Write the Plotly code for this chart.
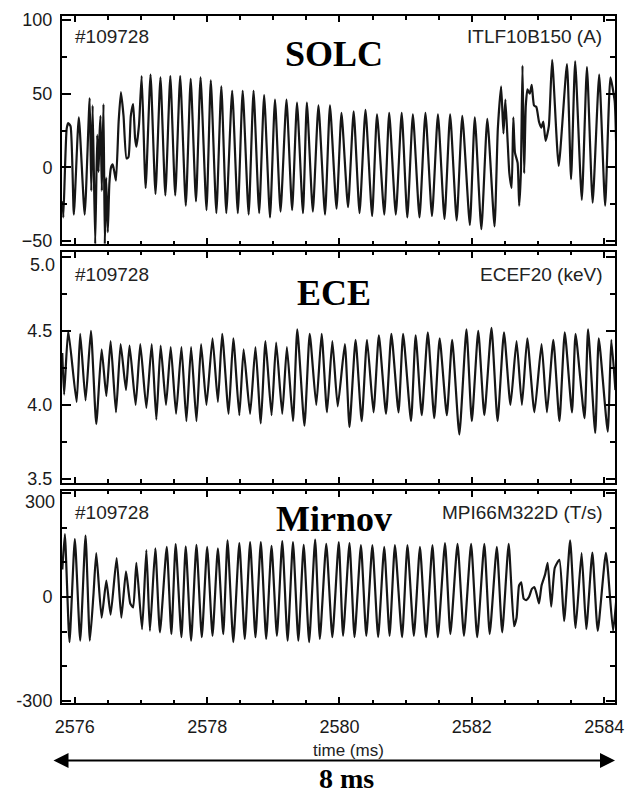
import plotly.graph_objects as go
from plotly.subplots import make_subplots

# ---------------- data (time in ms) ----------------
solc_t = [2575.816, 2575.826, 2575.876, 2575.900, 2575.935, 2575.985, 2576.060, 2576.149, 2576.224, 2576.249,
          2576.269, 2576.308, 2576.338, 2576.358, 2576.373, 2576.388, 2576.408, 2576.433, 2576.453, 2576.473,
          2576.498, 2576.522, 2576.547, 2576.572, 2576.597, 2576.622, 2576.662, 2576.697, 2576.736, 2576.781,
          2576.811, 2576.846, 2576.881, 2576.910, 2576.930, 2576.970, 2577.010, 2577.070, 2577.144, 2577.219,
          2577.294, 2577.368, 2577.443, 2577.517, 2577.592, 2577.677, 2577.751, 2577.831, 2577.900, 2577.990,
          2578.055, 2578.139, 2578.214, 2578.289, 2578.378, 2578.463, 2578.537, 2578.627, 2578.701, 2578.786,
          2578.861, 2578.950, 2579.025, 2579.109, 2579.199, 2579.284, 2579.358, 2579.448, 2579.507, 2579.597,
          2579.682, 2579.781, 2579.856, 2579.955, 2580.030, 2580.129, 2580.214, 2580.303, 2580.393, 2580.493,
          2580.567, 2580.677, 2580.751, 2580.851, 2580.940, 2581.025, 2581.109, 2581.209, 2581.299, 2581.398,
          2581.488, 2581.587, 2581.672, 2581.771, 2581.856, 2581.970, 2582.045, 2582.144, 2582.234, 2582.343,
          2582.393, 2582.443, 2582.478, 2582.507, 2582.542, 2582.567, 2582.602, 2582.627, 2582.652, 2582.692,
          2582.716, 2582.741, 2582.766, 2582.791, 2582.816, 2582.841, 2582.876, 2582.905, 2582.940, 2582.975,
          2583.015, 2583.050, 2583.080, 2583.115, 2583.164, 2583.214, 2583.313, 2583.438, 2583.500, 2583.562,
          2583.662, 2583.740, 2583.826, 2583.925, 2584.015, 2584.095, 2584.159, 2584.184]
solc_v = [-23, -34, 26, 30, 28, -32, 34, -32, 47, -16,
          42, -52, 22, -3, 22, 35, -16, 43, -52, -7,
          -44, -11, 0, 2, -3, -9, 31, 51, 35, 6,
          7, 35, 43, 20, 14, 29, 62, -14, 63, -18,
          61, -19, 62, -19, 62, -26, 60, -23, 61, -29,
          59, -31, 55, -31, 52, -31, 52, -32, 52, -31,
          49, -34, 46, -30, 46, -29, 44, -31, 44, -30,
          42, -32, 42, -28, 37, -27, 38, -31, 39, -33,
          36, -32, 37, -32, 37, -34, 36, -34, 37, -33,
          36, -35, 36, -36, 35, -39, 34, -42, 33, -40,
          26, 55, 23, 46, 17, -4, -14, 34, 10, 3,
          -26, -4, 69, -4, 42, 53, 50, 56, 42, 41,
          31, 27, 31, 18, 28, 73, 1, 70, -8, 72,
          -22, 68, -24, 63, -26, 61, 45, 10]

ece_t = [2575.810, 2575.838, 2575.900, 2576.027, 2576.081, 2576.162, 2576.243, 2576.324, 2576.405, 2576.476,
         2576.541, 2576.622, 2576.692, 2576.773, 2576.827, 2576.919, 2576.989, 2577.081, 2577.162, 2577.232,
         2577.297, 2577.378, 2577.449, 2577.530, 2577.611, 2577.686, 2577.757, 2577.838, 2577.908, 2577.989,
         2578.081, 2578.162, 2578.227, 2578.324, 2578.395, 2578.486, 2578.551, 2578.649, 2578.730, 2578.811,
         2578.881, 2578.973, 2579.043, 2579.135, 2579.205, 2579.297, 2579.362, 2579.470, 2579.550, 2579.649,
         2579.730, 2579.811, 2579.892, 2579.973, 2580.081, 2580.151, 2580.243, 2580.335, 2580.416, 2580.514,
         2580.595, 2580.703, 2580.784, 2580.892, 2580.962, 2581.081, 2581.151, 2581.243, 2581.335, 2581.432,
         2581.514, 2581.622, 2581.703, 2581.811, 2581.919, 2582.000, 2582.097, 2582.189, 2582.297, 2582.389,
         2582.486, 2582.584, 2582.676, 2582.757, 2582.838, 2582.946, 2583.054, 2583.135, 2583.232, 2583.324,
         2583.405, 2583.514, 2583.568, 2583.703, 2583.757, 2583.865, 2583.919, 2584.054, 2584.108, 2584.170]
ece_v = [4.35, 4.07, 4.50, 4.02, 4.48, 4.03, 4.50, 3.87, 4.375, 4.06,
         4.43, 3.95, 4.41, 4.10, 4.40, 4.00, 4.41, 3.98, 4.41, 3.90,
         4.40, 4.00, 4.39, 3.94, 4.39, 3.89, 4.39, 3.89, 4.41, 4.00,
         4.45, 4.02, 4.48, 3.94, 4.45, 3.93, 4.375, 3.94, 4.39, 3.875,
         4.43, 3.93, 4.42, 3.94, 4.39, 3.89, 4.51, 3.86, 4.48, 4.00,
         4.48, 3.95, 4.43, 3.99, 4.41, 3.85, 4.44, 3.89, 4.44, 3.95,
         4.47, 3.94, 4.48, 3.95, 4.48, 3.89, 4.47, 3.93, 4.49, 3.91,
         4.45, 3.93, 4.44, 3.80, 4.51, 3.89, 4.50, 3.93, 4.52, 3.89,
         4.49, 4.00, 4.43, 4.00, 4.45, 3.95, 4.41, 3.95, 4.44, 3.89,
         4.49, 3.95, 4.48, 3.91, 4.51, 3.81, 4.45, 3.82, 4.44, 4.10]

mir_t = [2575.811, 2575.849, 2575.919, 2576.000, 2576.081, 2576.162, 2576.227, 2576.281, 2576.324, 2576.405,
         2576.476, 2576.541, 2576.632, 2576.703, 2576.773, 2576.838, 2576.881, 2576.930, 2577.016, 2577.081,
         2577.135, 2577.216, 2577.286, 2577.389, 2577.459, 2577.524, 2577.611, 2577.676, 2577.757, 2577.838,
         2577.919, 2578.000, 2578.081, 2578.162, 2578.243, 2578.308, 2578.395, 2578.486, 2578.568, 2578.649,
         2578.730, 2578.811, 2578.892, 2578.973, 2579.054, 2579.135, 2579.216, 2579.297, 2579.378, 2579.459,
         2579.541, 2579.632, 2579.703, 2579.800, 2579.892, 2579.989, 2580.054, 2580.151, 2580.227, 2580.324,
         2580.405, 2580.497, 2580.584, 2580.676, 2580.757, 2580.838, 2580.946, 2581.027, 2581.124, 2581.216,
         2581.308, 2581.405, 2581.486, 2581.595, 2581.676, 2581.784, 2581.881, 2581.989, 2582.081, 2582.189,
         2582.270, 2582.378, 2582.459, 2582.557, 2582.638, 2582.676, 2582.714, 2582.746, 2582.784, 2582.822,
         2582.865, 2582.908, 2582.946, 2582.984, 2583.016, 2583.054, 2583.108, 2583.146, 2583.200, 2583.254,
         2583.324, 2583.395, 2583.486, 2583.568, 2583.659, 2583.730, 2583.822, 2583.903, 2584.027, 2584.135,
         2584.189]
mir_v = [79, 181, -130, 167, -126, 177, -126, 5, 126, -60,
         47, -51, 112, -60, 74, -19, -30, 98, -93, 135,
         -98, 140, -102, 144, -107, 152, -116, 146, -126, 150,
         -116, 144, -112, 140, -107, 163, -130, 155, -121, 158,
         -116, 158, -121, 147, -112, 161, -126, 158, -126, 150,
         -130, 165, -121, 153, -116, 158, -112, 155, -116, 149,
         -112, 149, -116, 144, -112, 149, -116, 149, -112, 144,
         -116, 149, -116, 155, -107, 153, -112, 153, -116, 153,
         -107, 144, -102, 153, -84, -60, 33, 42, -5, -9,
         0, 23, 28, 5, -19, 33, 65, 98, -28, 84,
         107, -70, 163, -90, 126, -93, 128, -98, 127, -98,
         5]

shot_label = "#109728"
panel_names = ["SOLC", "ECE", "Mirnov"]
signal_names = ["ITLF10B150 (A)", "ECEF20 (keV)", "MPI66M322D (T/s)"]
x_range = [2575.806, 2584.164]
y_ranges = [[-52.0, 102.7], [3.473, 5.033], [-305.7, 305.7]]
y2_ticks = [3.5, 4.0, 4.5, 5.0]
y3_ticks = [-300, 0, 300]

# ---------------- figure ----------------
W, H = 634, 798
ML, MR, MT, MB = 62, 12, 10, 95
PW, PH = W - ML - MR, H - MT - MB

def px_x(p):
    return (p - ML) / PW

def px_y(p):
    return (H - MB - p) / PH

fig = make_subplots(rows=3, cols=1, shared_xaxes=True, vertical_spacing=0.01)

line = dict(color="#161616", width=2.2, shape="spline", smoothing=0.5)
for i, (t, v) in enumerate([(solc_t, solc_v), (ece_t, ece_v), (mir_t, mir_v)]):
    fig.add_trace(go.Scatter(x=t, y=v, mode="lines", line=line, showlegend=False,
                             hoverinfo="skip"), row=i + 1, col=1)

sans = "Liberation Sans, Arial, Helvetica, sans-serif"
serif = "Liberation Serif, Times New Roman, serif"
tickfont = dict(family=sans, size=18, color="#1a1a1a")

domains = [[px_y(240), px_y(10)], [px_y(481), px_y(248)], [px_y(703), px_y(489)]]

axis_common = dict(showline=True, linecolor="black", linewidth=2, mirror="allticks",
                   ticks="inside", tickcolor="black", showgrid=False, zeroline=False)

for i in range(3):
    xa = "xaxis" if i == 0 else f"xaxis{i+1}"
    ya = "yaxis" if i == 0 else f"yaxis{i+1}"
    fig.layout[xa].update(range=x_range, domain=[0, 1], tick0=2576, dtick=2,
                          ticklen=6, tickwidth=1.5,
                          minor=dict(dtick=0.5, tick0=2576, ticklen=3.5, tickwidth=1.5,
                                     tickcolor="black", ticks="inside", showgrid=False),
                          showticklabels=(i == 2), tickfont=tickfont,
                          ticklabelstandoff=6,
                          **axis_common)
    fig.layout[ya].update(range=y_ranges[i], domain=domains[i], ticklen=9, tickwidth=1.5,
                          tickfont=tickfont, ticklabelstandoff=4, **axis_common)

fig.layout.yaxis.update(tick0=0, dtick=50,
                        minor=dict(dtick=25, tick0=0, ticklen=5, tickwidth=1.5,
                                   tickcolor="black", ticks="inside", showgrid=False))
# the top labels of the lower panels sit a little below their ticks (drawn as annotations)
fig.layout.yaxis2.update(tickmode="array", tickvals=y2_ticks,
                         ticktext=["3.5", "4.0", "4.5", ""],
                         minor=dict(tickmode="linear", dtick=0.25, tick0=3.5, ticklen=5, tickwidth=1.5,
                                    tickcolor="black", ticks="inside", showgrid=False))
fig.layout.yaxis3.update(tickmode="array", tickvals=y3_ticks, ticktext=["-300", "0", ""],
                         minor=dict(tickmode="linear", dtick=100, tick0=0, ticklen=5, tickwidth=1.5,
                                    tickcolor="black", ticks="inside", showgrid=False))

ann = []
ann.append(dict(text="5.0", xref="paper", yref="paper", x=px_x(57), y=px_y(261),
                xanchor="right", yanchor="middle", showarrow=False, font=tickfont))
ann.append(dict(text="300", xref="paper", yref="paper", x=px_x(57), y=px_y(500),
                xanchor="right", yanchor="middle", showarrow=False, font=tickfont))

shot_y = [31, 271, 511]
name_y = [48, 289, 517]
for i in range(3):
    ann.append(dict(text=shot_label, xref="paper", yref="paper", x=px_x(73), y=px_y(shot_y[i]),
                    xanchor="left", yanchor="middle", showarrow=False,
                    font=dict(family=sans, size=19, color="#222")))
    ann.append(dict(text=signal_names[i], xref="paper", yref="paper", x=px_x(611), y=px_y(shot_y[i]),
                    xanchor="right", yanchor="middle", showarrow=False,
                    font=dict(family=sans, size=19, color="#222")))
    ann.append(dict(text="<b>" + panel_names[i] + "</b>", xref="paper", yref="paper",
                    x=px_x(337), y=px_y(name_y[i]), xanchor="center", yanchor="middle",
                    showarrow=False, font=dict(family=serif, size=36, color="black")))

# axis title and span arrow
ann.append(dict(text="time (ms)", xref="paper", yref="paper", x=px_x(352), y=px_y(751),
                xanchor="center", yanchor="middle", showarrow=False,
                font=dict(family=sans, size=17, color="#222")))
ann.append(dict(text="", xref="paper", yref="paper", x=px_x(622), y=px_y(761),
                ax=-(622 - 59), ay=0, showarrow=True, arrowhead=2, startarrowhead=2,
                arrowside="end+start", arrowwidth=2, arrowsize=1.5, startarrowsize=1.5,
                arrowcolor="black"))
ann.append(dict(text="<b>8 ms</b>", xref="paper", yref="paper", x=px_x(350), y=px_y(779),
                xanchor="center", yanchor="middle", showarrow=False,
                font=dict(family=serif, size=28, color="black")))

fig.update_layout(width=W, height=H, margin=dict(l=ML, r=MR, t=MT, b=MB, pad=0),
                  paper_bgcolor="white", plot_bgcolor="white", annotations=ann,
                  showlegend=False)

fig.write_html("out.html", config={"displayModeBar": False})
